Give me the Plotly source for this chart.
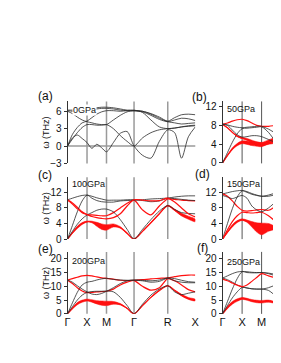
import plotly.graph_objects as go

W, H = 281, 363

# ---------------- data ----------------
K = [0.0, 0.125, 0.25, 0.375, 0.5,
     0.625, 0.75, 0.875, 1.0,
     1.177, 1.354, 1.530, 1.707,
     1.924, 2.140, 2.357, 2.573,
     2.750, 2.927, 3.103, 3.280]
K_NODES = [0.0, 0.5, 1.0, 1.707, 2.573, 3.280]
K_LABELS = ["Γ", "X", "M", "Γ", "R", "X"]

PRESSURES = ["0GPa", "50GPa", "100GPa", "150GPa", "200GPa", "250GPa"]
TAGS = ["(a)", "(b)", "(c)", "(d)", "(e)", "(f)"]

# 0 GPa (full path)
A_BANDS = [
    [0, 1.4, 1.9, 1.3, 0.6, -0.4, 0.3, -0.3, -1.0, 0.6, 2.2, 2.5, 0, -1.6, -2.1, 0.8, 2.8, 2.3, -2.1, 1.6, 3.3],
    [0, 1.2, 2.3, 3.2, 3.7, 3.7, 3.6, 3.6, 3.7, 3.0, 1.8, 0.8, 0, 1.4, 2.3, 2.8, 3.0, 3.1, 3.3, 3.5, 3.6],
    [0, 2.0, 3.2, 4.0, 4.3, 4.9, 5.5, 5.9, 6.1, 6.1, 6.0, 6.1, 6.1, 5.9, 5.3, 4.6, 4.2, 4.5, 4.8, 4.7, 4.4],
    [6.0, 5.6, 5.0, 4.5, 4.2, 4.0, 3.8, 3.7, 3.7, 4.5, 5.3, 5.9, 6.1, 6.0, 5.5, 4.8, 4.2, 4.0, 3.8, 3.9, 4.0],
    [6.1, 6.0, 5.9, 5.9, 6.0, 6.2, 6.4, 6.5, 6.5, 6.4, 6.2, 6.1, 6.1, 6.0, 5.6, 5.0, 4.3, 4.9, 5.4, 5.5, 5.4],
    [6.2, 6.2, 6.2, 6.3, 6.4, 6.5, 6.6, 6.7, 6.7, 6.6, 6.4, 6.2, 6.2, 5.8, 4.5, 3.3, 3.0, 3.1, 3.3, 3.4, 3.5],
]
A_WIDTH = [[0] * 21 for _ in range(6)]

# 50 GPa (Γ-X-M-Γ)
B_BANDS = [
    [0, 1.6, 3.0, 3.9, 4.4, 4.3, 4.1, 4.0, 3.9, 4.5, 5.0, 3.0, 0],
    [0, 2.2, 4.4, 6.2, 7.3, 7.4, 7.5, 7.6, 7.7, 6.5, 4.5, 2.0, 0],
    [8.2, 8.5, 8.9, 9.2, 9.3, 9.0, 8.5, 8.0, 7.8, 7.8, 8.0, 8.3, 8.4],
    [8.2, 7.5, 6.5, 5.7, 5.3, 5.0, 4.6, 4.2, 4.0, 4.2, 4.5, 6.0, 8.4],
    [8.3, 8.1, 7.8, 7.6, 7.5, 7.6, 7.7, 7.8, 7.8, 7.2, 6.5, 7.5, 8.4],
    [8.2, 8.0, 7.0, 6.0, 5.5, 5.6, 5.8, 5.8, 5.6, 5.0, 4.5, 6.5, 8.4],
]
B_WIDTH = [
    [0, 0.1, 0.2, 0.25, 0.3, 0.35, 0.4, 0.45, 0.45, 0.4, 0.3, 0.1, 0],
    [0] * 13,
    [0] * 13,
    [0, 0, 0.05, 0.1, 0.15, 0.2, 0.25, 0.3, 0.3, 0.25, 0.2, 0.1, 0],
    [0] * 13,
    [0] * 13,
]

# 100 GPa (full path)
C_BANDS = [
    [10.1, 10.5, 10.9, 11.2, 11.3, 11.0, 10.6, 10.3, 10.0, 10.0, 10.0, 10.1, 10.1, 9.9, 9.6, 9.8, 10.5, 10.8, 11.0, 11.1, 11.1],
    [10.0, 9.3, 8.2, 7.0, 6.3, 6.2, 6.1, 6.0, 6.0, 6.8, 8.0, 9.2, 10.0, 7.5, 6.2, 8.5, 10.3, 10.2, 10.0, 9.9, 9.8],
    [0, 3.5, 7.0, 9.8, 11.3, 10.5, 9.9, 9.6, 9.5, 9.5, 9.8, 9.9, 10.0, 10.1, 10.3, 10.4, 10.5, 10.4, 10.2, 10.0, 9.9],
    [0, 1.6, 3.0, 4.0, 4.5, 4.4, 3.8, 3.2, 3.0, 3.5, 3.0, 1.5, 0, 2.0, 4.2, 6.5, 8.6, 7.5, 6.3, 5.5, 4.8],
    [0, 2.0, 3.8, 5.2, 6.2, 6.8, 7.4, 7.7, 7.7, 7.0, 5.0, 2.5, 0, 2.5, 5.0, 7.2, 8.6, 7.6, 6.8, 6.6, 6.5],
    [10.1, 9.0, 7.8, 6.8, 6.3, 5.8, 5.5, 5.3, 5.2, 5.5, 6.5, 8.5, 10.1, 10.0, 9.8, 9.9, 10.5, 9.5, 8.0, 6.5, 5.7],
]
C_WIDTH = [
    [0] * 21,
    [0] * 21,
    [0] * 21,
    [0, 0.15, 0.3, 0.25, 0.15, 0.2, 0.5, 0.7, 0.7, 0.4, 0.2, 0.1, 0, 0, 0.05, 0.1, 0.1, 0.2, 0.35, 0.4, 0.35],
    [0] * 21,
    [0] * 21,
]

# 150 GPa (Γ-X-M-Γ)
D_BANDS = [
    [11.6, 11.9, 12.2, 12.4, 12.5, 12.2, 11.7, 11.3, 11.0, 11.0, 11.4, 11.8, 11.6],
    [11.6, 11.0, 9.8, 8.4, 7.4, 7.2, 7.3, 7.5, 7.6, 7.4, 8.5, 10.5, 11.6],
    [0, 4.0, 7.8, 10.8, 12.4, 12.0, 11.5, 11.2, 11.0, 11.3, 11.8, 12.0, 11.6],
    [0, 1.8, 3.4, 4.5, 5.0, 4.6, 3.8, 3.0, 2.6, 3.0, 2.8, 1.5, 0],
    [0, 2.4, 4.5, 6.0, 6.9, 6.8, 6.7, 6.8, 6.9, 6.0, 4.5, 2.5, 0],
    [11.2, 10.8, 10.4, 10.8, 11.2, 10.5, 8.5, 7.5, 7.0, 8.0, 9.5, 10.8, 11.6],
]
D_WIDTH = [
    [0] * 13,
    [0] * 13,
    [0] * 13,
    [0, 0.15, 0.3, 0.25, 0.2, 0.3, 0.7, 1.2, 1.5, 1.0, 0.4, 0.1, 0],
    [0] * 13,
    [0] * 13,
]

# 200 GPa (full path)
E_BANDS = [
    [12.3, 12.8, 13.3, 13.8, 14.0, 13.8, 13.4, 13.1, 12.9, 12.6, 12.2, 12.1, 12.2, 12.4, 12.7, 12.9, 13.1, 13.5, 13.9, 14.1, 14.1],
    [12.2, 11.0, 9.5, 8.3, 7.7, 7.8, 8.0, 8.1, 8.2, 9.0, 10.5, 11.5, 12.1, 10.0, 8.6, 9.5, 12.8, 12.0, 10.5, 8.8, 8.0],
    [0, 4.0, 7.8, 10.5, 11.5, 11.8, 12.3, 12.7, 12.9, 12.5, 12.3, 12.2, 12.2, 12.0, 11.5, 11.8, 13.0, 12.8, 12.2, 11.7, 11.5],
    [0, 2.0, 3.7, 4.6, 5.0, 4.7, 4.2, 3.9, 3.8, 4.0, 3.5, 2.0, 0, 3.0, 6.0, 8.5, 10.2, 8.5, 6.8, 5.6, 5.0],
    [0, 2.6, 5.0, 6.8, 7.8, 8.1, 8.2, 8.2, 8.3, 8.0, 6.0, 3.0, 0, 3.5, 6.8, 9.0, 10.2, 8.0, 7.0, 7.5, 8.0],
    [12.3, 11.5, 10.2, 9.0, 8.0, 7.2, 7.0, 7.4, 8.2, 9.5, 11.0, 12.0, 12.3, 12.2, 12.0, 12.3, 13.0, 12.0, 11.5, 11.3, 11.3],
]
E_WIDTH = [
    [0] * 21,
    [0] * 21,
    [0] * 21,
    [0, 0.2, 0.4, 0.4, 0.35, 0.45, 0.6, 0.8, 0.8, 0.5, 0.25, 0.1, 0, 0.05, 0.1, 0.15, 0.1, 0.2, 0.3, 0.35, 0.3],
    [0] * 21,
    [0] * 21,
]

# 250 GPa (Γ-X-M-Γ)
F_BANDS = [
    [13.0, 13.8, 14.6, 15.2, 15.4, 15.3, 15.1, 15.0, 15.0, 14.6, 13.8, 13.2, 13.0],
    [13.0, 12.4, 11.5, 10.5, 9.8, 9.4, 9.1, 9.0, 9.0, 9.5, 10.5, 11.8, 13.0],
    [0, 4.5, 9.0, 12.8, 15.3, 15.0, 14.9, 14.9, 15.0, 14.8, 14.3, 13.5, 13.0],
    [0, 2.3, 4.0, 5.0, 5.6, 5.3, 4.8, 4.5, 4.4, 4.6, 4.0, 2.2, 0],
    [0, 3.0, 5.8, 8.0, 9.6, 9.4, 9.1, 9.0, 9.0, 8.5, 6.5, 3.5, 0],
    [12.6, 12.0, 11.2, 10.4, 9.9, 10.5, 11.8, 13.2, 14.6, 13.8, 13.2, 13.0, 12.6],
]
F_WIDTH = [
    [0] * 13,
    [0] * 13,
    [0] * 13,
    [0, 0.4, 0.5, 0.45, 0.35, 0.35, 0.4, 0.45, 0.45, 0.4, 0.3, 0.15, 0],
    [0] * 13,
    [0] * 13,
]

# ---------------- styles / layout ----------------
RED = "#ff1010"
DARK = "#2a2a2a"
FONT = "Arial, Liberation Sans, sans-serif"

LINE_COLORS = [
    [DARK] * 6,
    [RED, DARK, RED, RED, DARK, DARK],
    [DARK, RED, DARK, RED, DARK, RED],
    [DARK, RED, DARK, RED, RED, DARK],
    [RED, RED, DARK, RED, DARK, DARK],
    [DARK, DARK, DARK, RED, DARK, RED],
]

panels = [
    dict(bands=A_BANDS, width=A_WIDTH, xpx=(58, 189), ypx=(95, 158), yr=(-3, 7.7), ticks=[-3, 0, 3, 6], xr=(0, 3.28), full=True),
    dict(bands=B_BANDS, width=B_WIDTH, xpx=(217, 281), ypx=(95, 158), yr=(-0.1, 13.1), ticks=[0, 4, 8, 12], xr=(0, 1.6), full=False),
    dict(bands=C_BANDS, width=C_WIDTH, xpx=(58, 189), ypx=(172, 235), yr=(0, 15.9), ticks=[0, 4, 8, 12], xr=(0, 3.28), full=True),
    dict(bands=D_BANDS, width=D_WIDTH, xpx=(217, 281), ypx=(172, 235), yr=(0, 15.9), ticks=[0, 4, 8, 12], xr=(0, 1.6), full=False),
    dict(bands=E_BANDS, width=E_WIDTH, xpx=(58, 189), ypx=(248, 311), yr=(0, 22.5), ticks=[0, 5, 10, 15, 20], xr=(0, 3.28), full=True),
    dict(bands=F_BANDS, width=F_WIDTH, xpx=(217, 281), ypx=(248, 311), yr=(0, 22.5), ticks=[0, 5, 10, 15, 20], xr=(0, 1.6), full=False),
]

TAG_POS = [(35, 89), (193, 91), (35, 170), (196, 169), (35, 245), (196, 244)]
PRES_POS = [(63, 104), (220, 103), (62, 179), (220, 179), (62, 257), (220, 258)]

fig = go.Figure()
shapes = []
annotations = []

for i, p in enumerate(panels):
    n = i + 1
    xa = "x" if n == 1 else f"x{n}"
    ya = "y" if n == 1 else f"y{n}"
    xkey = "xaxis" if n == 1 else f"xaxis{n}"
    ykey = "yaxis" if n == 1 else f"yaxis{n}"
    npts = len(p["bands"][0])
    kk = K[:npts]
    for b, wd in zip(p["bands"], p["width"]):
        if max(wd) > 0:
            up = [v + w for v, w in zip(b, wd)]
            lo = [v - w for v, w in zip(b, wd)]
            fig.add_trace(go.Scatter(
                x=kk + kk[::-1], y=up + lo[::-1], xaxis=xa, yaxis=ya,
                mode="lines", fill="toself", fillcolor=RED,
                line=dict(color=RED, width=0.5, shape="spline", smoothing=0.8),
                hoverinfo="skip", showlegend=False))
    for b, col in zip(p["bands"], LINE_COLORS[i]):
        fig.add_trace(go.Scatter(
            x=kk, y=b, xaxis=xa, yaxis=ya, mode="lines",
            line=dict(color=col, width=1.2 if col == RED else 0.8, shape="spline", smoothing=0.8),
            hoverinfo="skip", showlegend=False))

    x0, x1 = p["xpx"]
    t, bt = p["ypx"]
    fig.layout[xkey] = dict(
        domain=[x0 / W, x1 / W], range=list(p["xr"]), anchor=ya,
        showgrid=False, zeroline=False, showline=False,
        tickvals=K_NODES if n >= 5 else [],
        ticktext=K_LABELS if n >= 5 else [],
        ticks="", tickfont=dict(family=FONT, size=11, color="#111"),
    )
    fig.layout[ykey] = dict(
        domain=[1 - bt / H, 1 - t / H], range=list(p["yr"]), anchor=xa,
        showgrid=False, zeroline=False, showline=True, linecolor="#333", linewidth=1,
        ticks="outside", ticklen=3, tickwidth=1, tickcolor="#333",
        tickvals=p["ticks"], tickfont=dict(family=FONT, size=10, color="#111"),
    )
    inner = [k for k in K_NODES[1:-1] if k < p["xr"][1]]
    vcol = "#9a9a9a" if p["full"] else "#555555"
    vw = 1.5 if p["full"] else 1
    for k in inner:
        shapes.append(dict(type="line", xref=xa, yref=f"{ya} domain", x0=k, x1=k, y0=0, y1=1,
                           line=dict(color=vcol, width=vw), layer="below"))
    if n == 1:
        shapes.append(dict(type="line", xref=f"{xa} domain", yref=ya, x0=0, x1=1, y0=0, y1=0,
                           line=dict(color="#9a9a9a", width=1.5), layer="below"))
    if p["full"]:
        annotations.append(dict(text="ω (THz)", xref="paper", yref="paper",
                                x=36 / W, y=1 - (t + bt) / 2 / H, textangle=-90, showarrow=False,
                                font=dict(family=FONT, size=9, color="#111"),
                                xanchor="center", yanchor="middle"))
    tx, ty = TAG_POS[i]
    annotations.append(dict(text=TAGS[i], xref="paper", yref="paper", x=tx / W, y=1 - ty / H,
                            showarrow=False, font=dict(family=FONT, size=12, color="#111"),
                            xanchor="center", yanchor="middle"))
    px_, py_ = PRES_POS[i]
    annotations.append(dict(text=PRESSURES[i], xref="paper", yref="paper", x=px_ / W, y=1 - py_ / H,
                            showarrow=False, font=dict(family=FONT, size=9, color="#111"),
                            xanchor="left", yanchor="middle",
                            bgcolor="white" if n == 1 else "rgba(0,0,0,0)", borderpad=0))

fig.update_layout(
    width=W, height=H, margin=dict(l=0, r=0, t=0, b=0),
    paper_bgcolor="white", plot_bgcolor="white",
    shapes=shapes, annotations=annotations, showlegend=False,
)

fig.write_html("out.html")
